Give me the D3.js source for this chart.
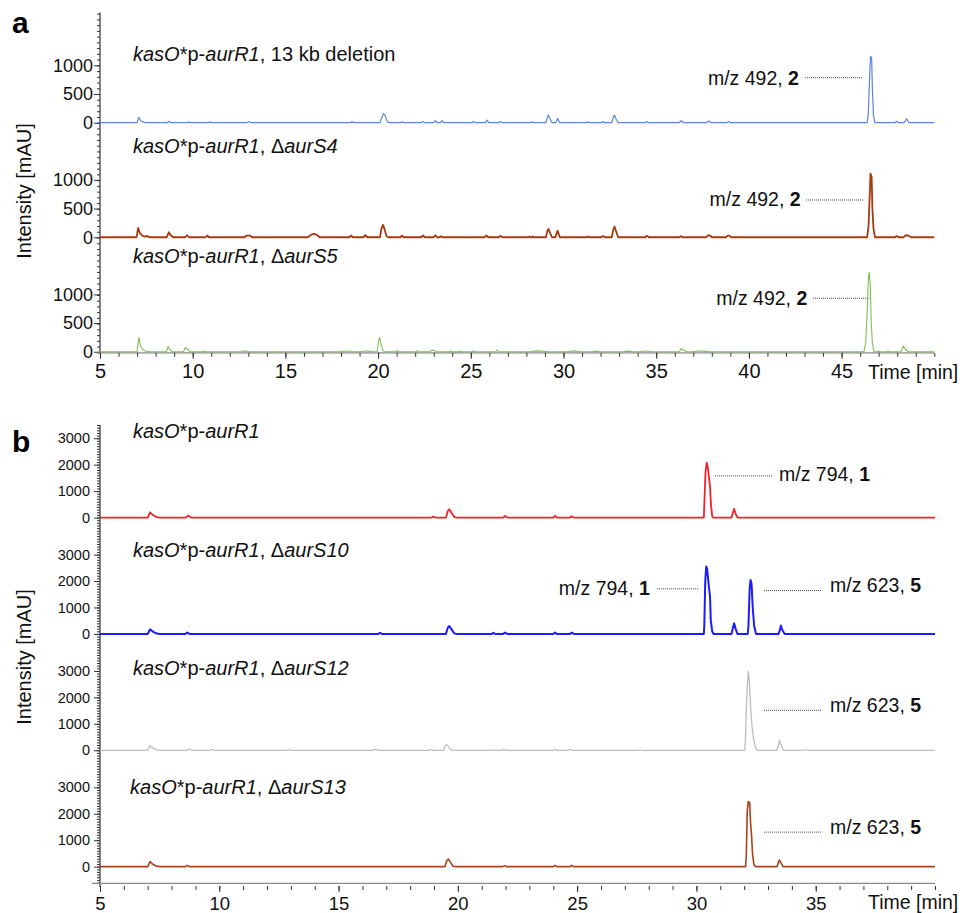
<!DOCTYPE html>
<html>
<head>
<meta charset="utf-8">
<script src="https://cdn.jsdelivr.net/npm/d3@7"></script>
<style>
body { margin: 0; background: #fff; }
svg { font-family: "Liberation Sans", Arial, sans-serif; }
</style>
</head>
<body>
<div id="chart"></div>
<script>
// tick labels
const timeTicksA = [5, 10, 15, 20, 25, 30, 35, 40, 45];
const timeTicksB = [5, 10, 15, 20, 25, 30, 35];
const intensityTicksA = [0, 500, 1000];
const intensityTicksB = [0, 1000, 2000, 3000];

// sample names (text, style)
const samplesA = [
    [["kasO", "i"], ["*p-", ""], ["aurR1", "i"], [", 13 kb deletion", ""]],
    [["kasO", "i"], ["*p-", ""], ["aurR1", "i"], [", ", ""], ["\u0394", ""], ["aurS4", "i"]],
    [["kasO", "i"], ["*p-", ""], ["aurR1", "i"], [", ", ""], ["\u0394", ""], ["aurS5", "i"]]
];
const samplesB = [
    [["kasO", "i"], ["*p-", ""], ["aurR1", "i"]],
    [["kasO", "i"], ["*p-", ""], ["aurR1", "i"], [", ", ""], ["\u0394", ""], ["aurS10", "i"]],
    [["kasO", "i"], ["*p-", ""], ["aurR1", "i"], [", ", ""], ["\u0394", ""], ["aurS12", "i"]],
    [["kasO", "i"], ["*p-", ""], ["aurR1", "i"], [", ", ""], ["\u0394", ""], ["aurS13", "i"]]
];

// chromatograms [time min, intensity mAU]
const traceA1 = [
    [5,0],[7.0,0],[7.09,92],[7.2,35],[7.35,10],[7.5,0],
    [8.62,0],[8.71,25],[8.82,0],[9.72,0],[9.79,15],[9.88,0],
    [10.85,0],[10.92,15],[11.0,0],[12.9,0],[13.02,20],[13.15,0],
    [18.52,0],[18.6,20],[18.7,0],
    [20.1,0],[20.22,110],[20.3,160],[20.38,120],[20.5,15],[20.6,0],
    [21.22,0],[21.29,15],[21.37,0],[22.32,0],[22.42,20],[22.52,0],
    [23.0,0],[23.09,35],[23.18,0],[23.37,0],[23.45,35],[23.54,0],
    [25.07,0],[25.15,20],[25.25,0],[25.78,0],[25.87,45],[25.97,0],
    [26.5,0],[26.59,20],[26.7,0],[28.23,0],[28.3,15],[28.38,0],
    [29.05,0],[29.12,90],[29.19,133],[29.27,70],[29.36,10],[29.42,0],
    [29.58,0],[29.68,75],[29.8,0],[31.23,0],[31.3,15],[31.38,0],
    [32.05,0],[32.13,20],[32.22,0],
    [32.6,0],[32.68,90],[32.75,133],[32.83,70],[32.95,0],
    [34.4,0],[34.5,20],[34.6,0],[36.22,0],[36.35,35],[36.48,0],
    [37.72,0],[37.84,30],[37.96,0],[38.8,0],[38.9,20],[39.0,0],
    [46.38,0],[46.44,150],[46.5,700],[46.56,1155],[46.62,1130],[46.66,600],[46.72,120],[46.8,0],
    [47.88,0],[47.97,25],[48.06,0],[48.38,0],[48.5,70],[48.64,0],
    [50,0]
];
const traceA2 = [
    [5,0],[6.97,0],[7.06,162],[7.15,70],[7.3,25],[7.45,10],[7.55,25],[7.65,0],
    [8.6,0],[8.71,87],[8.8,40],[8.95,0],[9.6,0],[9.7,35],[9.8,0],
    [10.7,0],[10.78,30],[10.88,0],[12.8,0],[12.9,30],[13.1,30],[13.2,0],
    [16.2,0],[16.4,45],[16.55,58],[16.7,40],[16.85,0],
    [18.45,0],[18.54,30],[18.64,0],[19.2,0],[19.31,35],[19.42,0],
    [20.1,0],[20.18,150],[20.26,215],[20.34,150],[20.45,20],[20.55,0],
    [21.2,0],[21.29,30],[21.38,0],[22.32,0],[22.42,30],[22.52,0],
    [23.0,0],[23.09,35],[23.18,0],[23.32,0],[23.39,20],[23.47,0],
    [25.74,0],[25.84,30],[25.94,0],[26.5,0],[26.59,25],[26.7,0],
    [28.12,0],[28.17,15],[28.23,0],[28.3,0],[28.35,15],[28.41,0],
    [29.05,0],[29.12,100],[29.19,145],[29.27,80],[29.38,0],
    [29.56,0],[29.68,116],[29.8,0],[31.23,0],[31.3,15],[31.38,0],
    [32.04,0],[32.13,25],[32.22,0],
    [32.6,0],[32.68,120],[32.75,186],[32.83,110],[32.95,0],
    [34.4,0],[34.5,25],[34.6,0],[36.25,0],[36.33,20],[36.42,0],
    [37.7,0],[37.8,35],[37.9,30],[38.0,0],[38.78,0],[38.86,30],[38.95,30],[39.03,0],
    [46.38,0],[46.45,180],[46.5,600],[46.56,1110],[46.62,1050],[46.66,500],[46.72,150],[46.8,0],
    [47.88,0],[47.97,25],[48.06,0],[48.35,0],[48.45,35],[48.6,30],[48.75,0],
    [50,0]
];
const traceA3 = [
    [5,0],[7.0,0],[7.09,250],[7.18,110],[7.3,40],[7.45,10],[7.6,0],
    [8.58,0],[8.68,93],[8.78,35],[8.9,0],[9.5,0],[9.61,75],[9.72,40],[9.85,0],
    [10.52,0],[10.6,15],[10.68,0],[12.6,0],[12.75,15],[12.9,12],[13.0,0],
    [18.0,0],[18.1,12],[18.3,8],[18.5,14],[18.7,0],[19.0,0],[19.2,10],[19.5,14],[19.7,0],
    [19.95,0],[20.02,180],[20.08,250],[20.15,150],[20.25,20],[20.35,0],
    [20.95,0],[21.02,20],[21.1,0],[22.02,0],[22.1,20],[22.18,0],
    [22.8,0],[22.9,30],[23.05,20],[23.15,0],[23.85,0],[23.9,15],[23.97,0],
    [24.37,0],[24.43,15],[24.5,0],[25.08,0],[25.15,20],[25.22,0],
    [26.33,0],[26.41,30],[26.5,0],[28.2,0],[28.4,12],[28.7,15],[29.1,0],
    [30.2,0],[30.4,12],[30.7,15],[30.9,0],[31.5,0],[31.7,12],[32.0,0],
    [33.2,0],[33.5,12],[33.8,0],[34.1,0],[34.4,14],[34.8,0],
    [36.25,0],[36.35,58],[36.5,20],[36.7,0],[37.0,0],[37.3,14],[37.6,12],[37.9,0],
    [46.2,0],[46.3,150],[46.38,700],[46.45,1300],[46.49,1380],[46.54,1200],[46.6,500],[46.66,150],[46.75,0],
    [46.93,0],[46.99,15],[47.05,0],[47.44,0],[47.5,15],[47.56,0],
    [48.2,0],[48.33,99],[48.45,40],[48.6,0],
    [50,0]
];
const traceB1 = [
    [5,0],[7.0,0],[7.1,200],[7.2,110],[7.35,30],[7.5,0],
    [8.6,0],[8.7,75],[8.82,0],[18.9,0],[18.97,40],[19.05,0],
    [19.5,0],[19.58,250],[19.64,315],[19.72,200],[19.85,20],[19.95,0],
    [21.9,0],[21.98,63],[22.08,0],[24.0,0],[24.07,60],[24.15,0],
    [24.7,0],[24.77,50],[24.85,0],
    [30.31,0],[30.33,480],[30.38,1700],[30.43,2080],[30.47,1950],[30.57,1170],[30.61,480],[30.66,60],[30.7,0],
    [31.47,0],[31.52,150],[31.58,330],[31.64,150],[31.72,0],
    [40,0]
];
const traceB2 = [
    [5,0],[7.0,0],[7.1,175],[7.2,100],[7.35,25],[7.5,0],
    [8.58,0],[8.66,50],[8.75,0],[16.67,0],[16.74,40],[16.82,0],
    [19.5,0],[19.58,240],[19.64,300],[19.72,190],[19.85,20],[19.95,0],
    [21.42,0],[21.49,40],[21.56,0],[21.9,0],[21.98,50],[22.07,0],
    [24.0,0],[24.07,50],[24.15,0],[24.7,0],[24.77,50],[24.86,0],
    [30.31,0],[30.33,300],[30.37,2000],[30.41,2545],[30.45,2450],[30.52,1800],[30.57,1410],[30.6,530],[30.66,100],[30.72,0],
    [31.47,0],[31.52,200],[31.58,400],[31.64,200],[31.72,0],
    [32.15,0],[32.18,300],[32.23,1700],[32.27,2040],[32.31,1900],[32.36,1000],[32.42,300],[32.5,0],
    [33.44,0],[33.5,150],[33.54,315],[33.6,150],[33.7,0],
    [40,0]
];
const traceB3 = [
    [5,0],[7.0,0],[7.1,175],[7.2,90],[7.35,25],[7.5,0],
    [8.66,0],[8.74,50],[8.83,0],[9.62,0],[9.7,40],[9.78,0],
    [12.84,0],[12.91,30],[12.98,0],[16.4,0],[16.55,30],[16.7,0],
    [18.83,0],[18.9,40],[18.97,0],
    [19.4,0],[19.47,170],[19.53,215],[19.6,140],[19.72,15],[19.8,0],
    [21.36,0],[21.42,20],[21.48,0],[21.85,0],[21.93,40],[22.01,0],
    [24.0,0],[24.07,40],[24.14,0],[24.63,0],[24.7,40],[24.78,0],
    [27.57,0],[27.64,30],[27.71,0],
    [32.02,0],[32.05,300],[32.1,1800],[32.17,2990],[32.22,2600],[32.27,1665],[32.33,900],[32.4,400],[32.48,80],[32.55,0],
    [33.38,0],[33.44,200],[33.48,378],[33.55,200],[33.65,0],
    [34.5,0],[34.57,30],[34.64,0],
    [40,0]
];
const traceB4 = [
    [5,0],[7.0,0],[7.1,190],[7.2,100],[7.35,25],[7.5,0],
    [8.58,0],[8.66,50],[8.75,0],
    [19.46,0],[19.54,230],[19.6,290],[19.68,180],[19.8,15],[19.9,0],
    [21.88,0],[21.96,40],[22.04,0],[24.0,0],[24.07,50],[24.15,0],
    [24.7,0],[24.77,50],[24.85,0],
    [32.06,0],[32.09,400],[32.13,2100],[32.17,2460],[32.2,2350],[32.23,2430],[32.27,1640],[32.31,1200],[32.35,500],[32.41,80],[32.47,0],
    [33.38,0],[33.43,150],[33.48,250],[33.54,150],[33.63,0],
    [40,0]
];

// peak labels (data coordinates of the trace they belong to)
const notesA = [
    { row: 0, text: "m/z 492, ", cmpd: "2", t1: 43.03, t2: 46.1, v: 784, tText: 42.7, vText: 657, anchor: "end" },
    { row: 1, text: "m/z 492, ", cmpd: "2", t1: 43.08, t2: 46.17, v: 649, tText: 42.79, vText: 544, anchor: "end" },
    { row: 2, text: "m/z 492, ", cmpd: "2", t1: 43.46, t2: 46.49, v: 932, tText: 43.15, vText: 815, anchor: "end" }
];
const notesB = [
    { row: 0, text: "m/z 794, ", cmpd: "1", t1: 30.78, t2: 33.21, v: 1577, tText: 33.46, vText: 1399, anchor: "start" },
    { row: 1, text: "m/z 794, ", cmpd: "1", t1: 28.35, t2: 30.07, v: 1705, tText: 28.05, vText: 1478, anchor: "end" },
    { row: 1, text: "m/z 623, ", cmpd: "5", t1: 32.83, t2: 35.26, v: 1641, tText: 35.6, vText: 1603, anchor: "start" },
    { row: 2, text: "m/z 623, ", cmpd: "5", t1: 32.83, t2: 35.26, v: 1512, tText: 35.6, vText: 1437, anchor: "start" },
    { row: 3, text: "m/z 623, ", cmpd: "5", t1: 32.83, t2: 35.26, v: 1305, tText: 35.6, vText: 1240, anchor: "start" }
];

const svg = d3.select("#chart").append("svg")
    .attr("width", 963)
    .attr("height", 913);

function drawPanel(p) {
    const g = svg.append("g");
    const x = p.x, y = p.y;
    const x0 = x.range()[0];

    // y axis: minor ticks over the whole stack, labelled ticks per trace
    const minor = d3.range(p.minorFrom, p.minorTo + 1, 100);
    g.append("g")
        .attr("transform", `translate(${x0},0)`)
        .call(d3.axisLeft(y).tickValues(minor).tickSize(3).tickFormat(""))
        .call(a => a.select(".domain").remove());

    const major = [], majorLabel = new Map();
    p.traces.forEach((tr, i) => {
        p.yTicks.forEach(v => {
            major.push(v - i * p.step);
            majorLabel.set(v - i * p.step, v);
        });
    });
    g.append("g")
        .attr("transform", `translate(${x0},0)`)
        .call(d3.axisLeft(y).tickValues(major).tickSize(6).tickPadding(p.yPad)
            .tickFormat(v => majorLabel.get(v)))
        .call(a => a.select(".domain").remove())
        .call(a => a.selectAll("text").attr("font-size", p.yFont).attr("fill", "#111")
            .attr("font-family", "Liberation Sans, Arial, sans-serif"));

    g.append("line")
        .attr("x1", x0).attr("x2", x0)
        .attr("y1", y.range()[1]).attr("y2", p.yAxisEnd)
        .attr("stroke", "#333").attr("stroke-width", 1.2);

    // x axis
    g.append("line")
        .attr("x1", p.xAxisStart).attr("x2", x.range()[1])
        .attr("y1", p.xAxisY).attr("y2", p.xAxisY)
        .attr("stroke", "#8a8a8a").attr("stroke-width", 1.2);

    g.append("g")
        .attr("transform", `translate(0,${p.xTickY})`)
        .call(d3.axisBottom(x).tickValues(d3.range(x.domain()[0], x.domain()[1] + 1, 1))
            .tickSize(4).tickFormat(""))
        .call(a => a.select(".domain").remove());
    g.append("g")
        .attr("transform", `translate(0,${p.xTickY})`)
        .call(d3.axisBottom(x).tickValues(p.xTicks).tickSize(6).tickPadding(p.xPad))
        .call(a => a.select(".domain").remove())
        .call(a => a.selectAll("text").attr("font-size", p.xFont).attr("fill", "#111")
            .attr("font-family", "Liberation Sans, Arial, sans-serif"));
    g.selectAll(".tick line").attr("stroke", "#333");

    g.append("text")
        .attr("x", 868).attr("y", p.timeY)
        .attr("font-size", 19.5).attr("fill", "#111")
        .text("Time [min]");

    g.append("text")
        .attr("transform", `translate(31,${p.titleY}) rotate(-90)`)
        .attr("text-anchor", "middle")
        .attr("font-size", 20).attr("fill", "#111")
        .text("Intensity [mAU]");

    g.append("text")
        .attr("x", 12).attr("y", p.letterY)
        .attr("font-size", 30).attr("font-weight", "bold")
        .text(p.letter);

    // traces
    p.traces.forEach((tr, i) => {
        const off = i * p.step;
        const line = d3.line()
            .x(d => x(d[0]))
            .y(d => y(d[1] - off));
        g.append("path")
            .datum(tr.data)
            .attr("fill", "none")
            .attr("stroke", tr.color)
            .attr("stroke-width", tr.width)
            .attr("stroke-linejoin", "round")
            .attr("d", line);

        const lab = g.append("text")
            .attr("x", x(p.labelT[i]))
            .attr("y", y(p.labelV[i] - off))
            .attr("font-size", 20).attr("fill", "#111");
        p.samples[i].forEach(part => {
            lab.append("tspan")
                .attr("font-style", part[1] === "i" ? "italic" : "normal")
                .text(part[0]);
        });
    });

    // peak labels
    p.notes.forEach(n => {
        const off = n.row * p.step;
        g.append("line")
            .attr("x1", x(n.t1)).attr("x2", x(n.t2))
            .attr("y1", y(n.v - off)).attr("y2", y(n.v - off))
            .attr("stroke", "#444").attr("stroke-width", 1)
            .attr("stroke-dasharray", "1,1");
        const t = g.append("text")
            .attr("x", x(n.tText))
            .attr("y", y(n.vText - off))
            .attr("text-anchor", n.anchor)
            .attr("font-size", 19.5).attr("fill", "#111");
        t.append("tspan").text(n.text);
        t.append("tspan").attr("font-weight", "bold").text(n.cmpd);
    });
}

drawPanel({
    letter: "a", letterY: 33, titleY: 191,
    x: d3.scaleLinear().domain([5, 50]).range([100, 934.3]),
    y: d3.scaleLinear().domain([-4020, 1920]).range([353.5, 12.5]),
    step: 1995, minorFrom: -4000, minorTo: 1900,
    yTicks: intensityTicksA, yFont: 18, yPad: 1, yAxisEnd: 353.5,
    xTicks: timeTicksA, xFont: 20, xPad: 5, xAxisY: 352.8, xAxisStart: 97, xTickY: 352.8, timeY: 378.5,
    traces: [
        { data: traceA1, color: "#5b86d9", width: 1.2 },
        { data: traceA2, color: "#a63a10", width: 1.8 },
        { data: traceA3, color: "#7fbe55", width: 1.1 }
    ],
    samples: samplesA,
    labelT: [6.78, 6.78, 6.78],
    labelV: [1075, 1467, 1552],
    notes: notesA
});

drawPanel({
    letter: "b", letterY: 452, titleY: 657,
    x: d3.scaleLinear().domain([5, 40]).range([100, 935]),
    y: d3.scaleLinear().domain([-13830, 3500]).range([883.3, 425]),
    step: 4400, minorFrom: -13800, minorTo: 3500,
    yTicks: intensityTicksB, yFont: 14.5, yPad: 4, yAxisEnd: 887,
    xTicks: timeTicksB, xFont: 18.5, xPad: 5, xAxisY: 883.3, xAxisStart: 92, xTickY: 886, timeY: 908.5,
    traces: [
        { data: traceB1, color: "#f2222c", width: 1.8 },
        { data: traceB2, color: "#1c1cff", width: 2 },
        { data: traceB3, color: "#bdbdbd", width: 1.3 },
        { data: traceB4, color: "#a8441a", width: 1.6 }
    ],
    samples: samplesB,
    labelT: [6.38, 6.38, 6.38, 6.26],
    labelV: [3002, 2927, 2862, 2753],
    notes: notesB
});
</script>
</body>
</html>
